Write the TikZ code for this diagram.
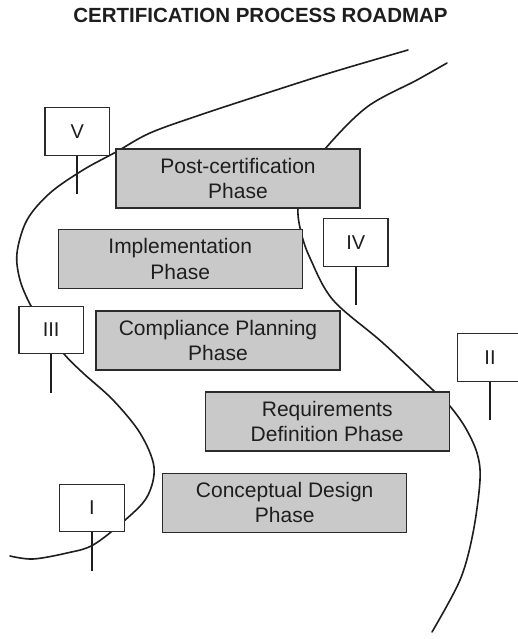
\documentclass[tikz,border=0pt]{standalone}
\usepackage{fontspec}
\setmainfont{Liberation Sans}
\definecolor{boxgray}{HTML}{C9C9C9}
\definecolor{edge}{HTML}{2B2B2B}
\definecolor{ink}{HTML}{1E1E1E}
\tikzset{
  road/.style={line width=1.6pt, draw=ink, line cap=round},
  phase/.style={draw=edge, line width=1.1pt, fill=boxgray, text=ink,
    minimum width=244pt, minimum height=59pt, inner sep=0pt, align=center,
    font=\fontsize{21}{25.5}\selectfont},
  sign/.style={draw=edge, line width=1.1pt, fill=white, text=ink,
    minimum width=64.5pt, minimum height=47.7pt, inner sep=0pt,
    font=\fontsize{20}{24}\selectfont},
  pole/.style={line width=2pt, draw=ink}
}
\begin{document}
\begin{tikzpicture}[x=1pt,y=-1pt]
\useasboundingbox (0,0) rectangle (517,639);
\fill[white] (0,0) rectangle (517,639);

% title
\node[text=ink, font=\fontsize{20.5}{24}\selectfont\bfseries] (title) at (260.5,15)
  {CERTIFICATION PROCESS ROADMAP};

% the two edges of the winding road
\draw[road] plot[smooth, tension=0.55] coordinates {
  (408,50) (333,72) (267,93) (200,115) (150,133) (116,152) (83,170)
  (50,193) (27,220) (17,253) (20,280) (31,306) (47,331) (64,354)
  (83,373) (113,400) (140,433) (154,467) (147,497) (124,521)
  (93,545) (67,553) (33,559) (10,556)};
\draw[road] plot[smooth, tension=0.55] coordinates {
  (447,63) (417,80) (367,107) (325,149) (305,180) (298,208) (301,232)
  (310,258) (333,300) (383,343) (435,392) (449,405) (465,427)
  (477,453) (480,480) (473,533) (460,580) (432,632)};

% phase boxes
\node[phase] (postcert) at (238,178.5) {Post-certification\\Phase};
\node[phase] (impl)     at (180.2,259.2) {Implementation\\Phase};
\node[phase] (compl)    at (218,340.5) {Compliance Planning\\Phase};
\node[phase] (req)      at (327.2,421.5) {Requirements\\Definition Phase};
\node[phase] (concept)  at (284.7,502.7) {Conceptual Design\\Phase};

% milestone signs on poles
\node[sign] (s5) at (77.2,131.5) {V};
\node[sign] (s4) at (355.7,242.2) {IV};
\node[sign] (s3) at (51.2,330) {III};
\node[sign] (s2) at (490,357.2) {II};
\node[sign] (s1) at (92,507.9) {I};

\foreach \s in {s1,s2,s3,s4,s5}{
  \coordinate (\s foot) at ([yshift=-38.5pt]\s.south);
  \draw[pole] (\s.south) -- (\s foot);
}
\end{tikzpicture}
\end{document}
